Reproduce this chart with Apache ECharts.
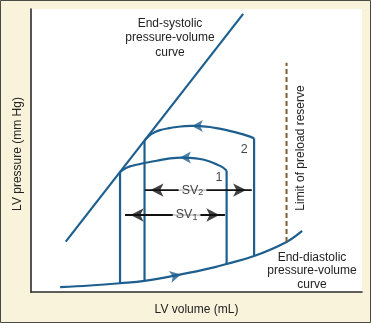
<!DOCTYPE html>
<html>
<head>
<meta charset="utf-8">
<style>
html,body{margin:0;padding:0;background:#faf3dc;}
#c{width:371px;height:323px;}
</style>
<script src="https://cdn.jsdelivr.net/npm/echarts@6/dist/echarts.min.js"></script>
</head>
<body>
<div id="c"></div>
<script>
// Arbitrary units: volume 0-100, pressure 0-100
var espvr = [[10.5, 17.8], [64.1, 98.3]];
var edpvr = [[8.8, 1.7], [17.8, 2.3], [26.9, 3.1], [34.3, 3.9], [45.3, 6.2], [55.6, 8.8], [59.1, 9.9], [67.4, 12.7], [77.2, 17.7], [81.9, 21.6]];
var loop1Left = [[26.9, 3.1], [26.9, 42.4]];
var loop1Arc = [[26.9, 42.4], [28.4, 43.6], [29.9, 44.4], [33.9, 45.5], [39.0, 46.6], [42.0, 47.2], [45.5, 47.5], [48.0, 47.4], [51.1, 47.0], [53.5, 46.3], [56.1, 45.1], [57.7, 44.2], [59.1, 42.9]];
var loop1Right = [[59.1, 42.9], [59.1, 9.9]];
var loop2Left = [[34.3, 3.9], [34.3, 53.5]];
var loop2Arc = [[34.3, 53.5], [36.0, 55.5], [37.5, 56.5], [39.0, 57.2], [41.4, 57.8], [44.0, 58.3], [46.5, 58.6], [48.6, 58.7], [51.1, 58.6], [54.1, 58.3], [56.5, 57.8], [59.1, 57.2], [61.6, 56.5], [64.1, 55.7], [66.2, 54.9], [67.4, 54.3]];
var loop2Right = [[67.4, 54.3], [67.4, 12.7]];
var preloadLimit = [[77.2, 17.7], [77.2, 81.0]];
var sv2Shaft = [[34.4, 36.0], [66.7, 36.0]];
var sv1Shaft = [[28.4, 27.2], [58.6, 27.2]];
// arrow heads: [x, y, rotation degrees]
var blueArrows = [[48.6, 58.7, 90], [45.0, 47.5, 90], [45.3, 6.2, -77]];
var blackArrows = [[36.1, 36.0, 90], [65.0, 36.0, -90], [30.1, 27.2, 90], [56.9, 27.2, -90]];
var svLabels = [[48.8, 36.0, '2'], [47.0, 27.2, '1']];
var loopLabels = [[56.8, 40.3, '1'], [64.4, 50.5, '2']];

var BLUE = '#1d5f8e';
var FONT = '"Liberation Sans", Arial, sans-serif';

function lineSeries(data, opts) {
  var s = {
    type: 'line', data: data, showSymbol: false, symbol: 'none', silent: true,
    lineStyle: { color: BLUE, width: 2.2 }, z: 3, animation: false
  };
  for (var k in opts) s[k] = opts[k];
  return s;
}

var series = [
  lineSeries(espvr),
  lineSeries(edpvr, { smooth: 0.4 }),
  lineSeries(loop1Left),
  lineSeries(loop1Arc, { smooth: 0.3 }),
  lineSeries(loop1Right),
  lineSeries(loop2Left),
  lineSeries(loop2Arc, { smooth: 0.3 }),
  lineSeries(loop2Right),
  lineSeries(preloadLimit, { lineStyle: { color: '#7d5d36', width: 2, type: [5, 3] } }),
  lineSeries(sv2Shaft, { lineStyle: { color: '#111', width: 1.8 }, z: 4 }),
  lineSeries(sv1Shaft, { lineStyle: { color: '#111', width: 1.8 }, z: 4 }),
  {
    type: 'scatter', silent: true, animation: false, z: 6,
    symbol: 'arrow', symbolSize: [9, 11],
    itemStyle: { color: BLUE },
    data: blueArrows.map(function (a) { return { value: [a[0], a[1]], symbolRotate: a[2] }; })
  },
  {
    type: 'scatter', silent: true, animation: false, z: 6,
    symbol: 'arrow', symbolSize: [10, 13],
    itemStyle: { color: '#111' },
    data: blackArrows.map(function (a) { return { value: [a[0], a[1]], symbolRotate: a[2] }; })
  },
  {
    type: 'scatter', silent: true, animation: false, z: 7, symbolSize: 0,
    data: svLabels.map(function (a) { return { value: [a[0], a[1]], sub: a[2] }; }),
    label: {
      show: true, position: 'inside',
      backgroundColor: '#fff', padding: [1, 3, 1, 3],
      formatter: function (p) { return '{a|SV}{s|' + p.data.sub + '}'; },
      rich: {
        a: { fontSize: 12.5, fontFamily: FONT, color: '#111', lineHeight: 13, verticalAlign: 'top' },
        s: { fontSize: 9, fontFamily: FONT, color: '#111', lineHeight: 9, padding: [7, 0, 0, 0], verticalAlign: 'bottom' }
      }
    }
  },
  {
    type: 'scatter', silent: true, animation: false, z: 7, symbolSize: 0,
    data: loopLabels.map(function (a) { return { value: [a[0], a[1]], name: a[2] }; }),
    label: {
      show: true, position: 'inside', formatter: '{b}',
      fontSize: 12.5, fontFamily: FONT, color: '#111'
    }
  }
];

var chart = echarts.init(document.getElementById('c'), null, { renderer: 'canvas' });
chart.setOption({
  animation: false,
  backgroundColor: '#faf3dc',
  grid: { left: 31, top: 9, right: 9, bottom: 31, show: true, backgroundColor: '#ffffff', borderWidth: 0 },
  xAxis: {
    type: 'value', min: 0, max: 100,
    axisLine: { show: true, onZero: false, lineStyle: { color: '#2b2b2b', width: 1.6 } },
    axisTick: { show: false }, axisLabel: { show: false }, splitLine: { show: false },
    name: 'LV volume (mL)', nameLocation: 'middle', nameGap: 12,
    nameTextStyle: { fontSize: 12, fontFamily: FONT, color: '#222' }
  },
  yAxis: {
    type: 'value', min: 0, max: 100,
    axisLine: { show: true, onZero: false, lineStyle: { color: '#2b2b2b', width: 1.6 } },
    axisTick: { show: false }, axisLabel: { show: false }, splitLine: { show: false },
    name: 'LV pressure (mm Hg)', nameLocation: 'middle', nameGap: 7,
    nameTextStyle: { fontSize: 12, fontFamily: FONT, color: '#222', padding: [0, 7, 0, 0] }
  },
  graphic: [
    { type: 'rect', z: 100, silent: true, shape: { x: 0.5, y: 0.5, width: 370, height: 322 },
      style: { fill: 'none', stroke: '#4a4a44', lineWidth: 1 } },
    { type: 'text', z: 50, silent: true, x: 170, y: 38,
      style: { text: 'End-systolic\npressure-volume\ncurve', fontSize: 12, fontFamily: FONT, fill: '#222',
        textAlign: 'center', textVerticalAlign: 'middle', lineHeight: 14.5 } },
    { type: 'text', z: 50, silent: true, x: 312, y: 271,
      style: { text: 'End-diastolic\npressure-volume\ncurve', fontSize: 12, fontFamily: FONT, fill: '#222',
        textAlign: 'center', textVerticalAlign: 'middle', lineHeight: 13.5 } },
    { type: 'text', z: 50, silent: true, x: 301, y: 148, rotation: Math.PI / 2,
      style: { text: 'Limit of preload reserve', fontSize: 12, fontFamily: FONT, fill: '#222',
        textAlign: 'center', textVerticalAlign: 'middle' } }
  ],
  series: series
});
</script>
</body>
</html>
